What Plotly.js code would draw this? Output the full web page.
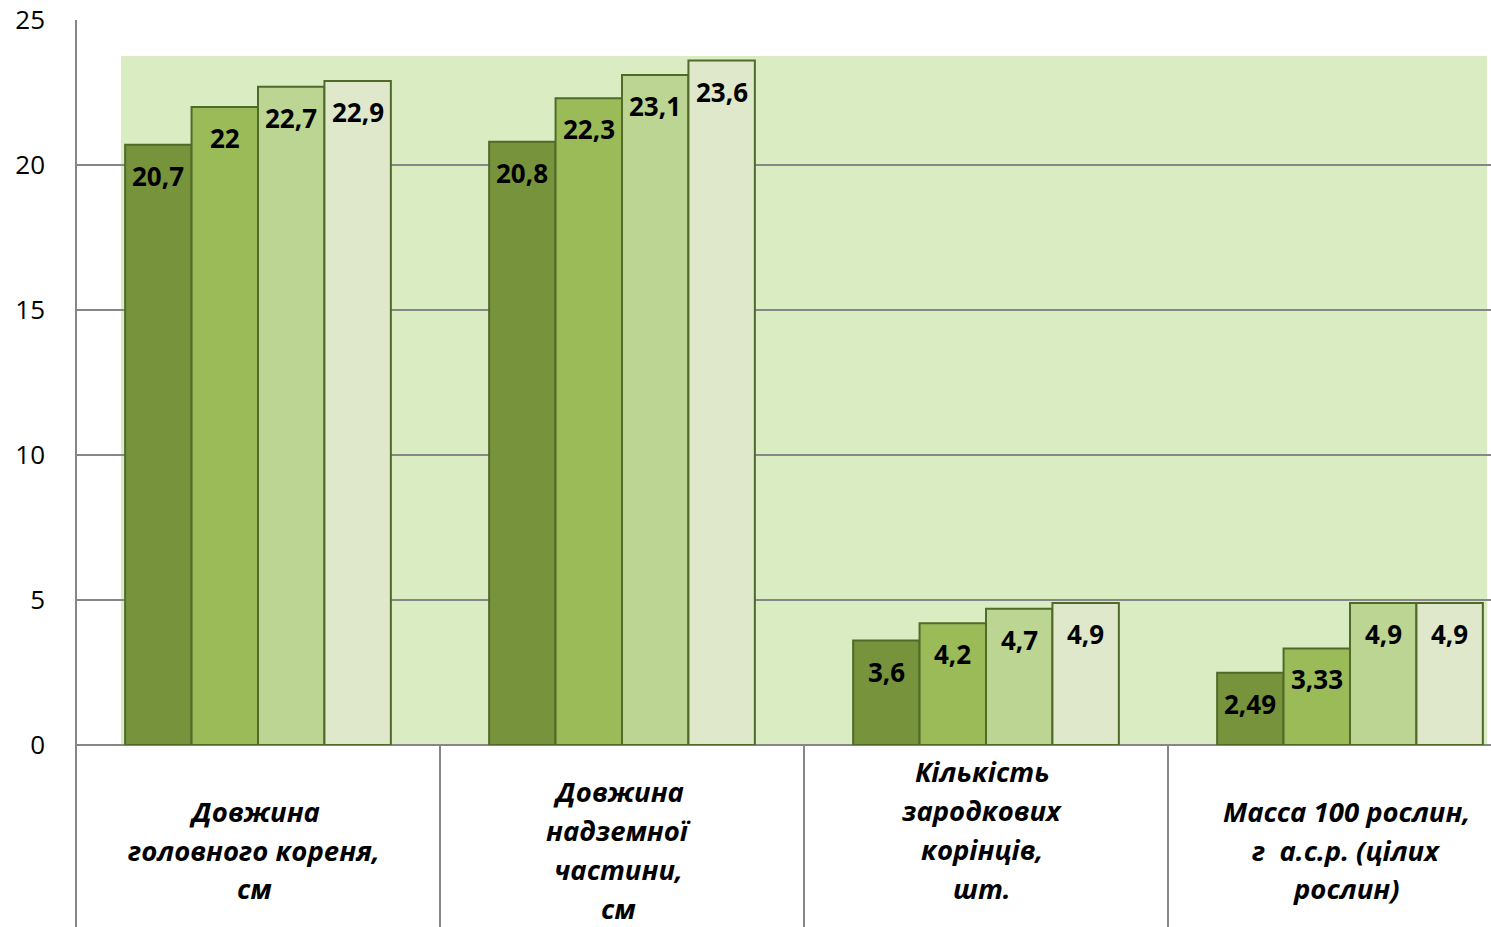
<!DOCTYPE html>
<html>
<head>
<meta charset="utf-8">
<script src="https://cdn.plot.ly/plotly-3.0.1.min.js"></script>
<style>html,body{margin:0;padding:0;background:#fff;}#chart{width:1491px;height:927px;}</style>
</head>
<body>
<div id="chart"></div>
<script>
const categories = [
  "Довжина<br>головного кореня,<br>см",
  "Довжина<br>надземної<br>частини,<br>см",
  "Кількість<br>зародкових<br>корінців,<br>шт.",
  "Масса 100 рослин,<br>г  а.с.р. (цілих<br>рослин)"
];
const series1 = [20.7, 20.8, 3.6, 2.49];
const series2 = [22, 22.3, 4.2, 3.33];
const series3 = [22.7, 23.1, 4.7, 4.9];
const series4 = [22.9, 23.6, 4.9, 4.9];
const yTicks = [0, 5, 10, 15, 20, 25];

const allSeries = [series1, series2, series3, series4];
const colors = ['#77933c', '#9bbb59', '#bcd592', '#dfe8cb'];
const xIdx = categories.map((c, i) => i);
const fmt = v => String(v).replace('.', ',');

const traces = allSeries.map((s, k) => ({
  type: 'bar',
  x: xIdx,
  y: s,
  marker: {color: colors[k], line: {color: '#506a29', width: 2}},
  hoverinfo: 'none',
  showlegend: false
}));

const plotL = 76, plotT = 20, plotB = 745, W = 1491, H = 927;
const catW = 364, bargap = 0.27;
const ph = plotB - plotT;
const belowBottom = -(H - plotB) / ph;
const barW = catW * (1 - bargap) / allSeries.length;

const shapes = [
  {type: 'rect', xref: 'paper', yref: 'paper', x0: (121 - plotL) / (W - plotL), x1: (1487 - plotL) / (W - plotL),
   y0: 0, y1: (plotB - 56) / ph, fillcolor: '#d9ecc2', line: {width: 0}, layer: 'below'},
  {type: 'line', xref: 'paper', yref: 'paper', x0: 0, x1: 0, y0: belowBottom, y1: 1,
   line: {color: '#868686', width: 2}, layer: 'above'}
];
[0.5, 1.5, 2.5].forEach(xv => shapes.push({
  type: 'line', xref: 'x', yref: 'paper', x0: xv, x1: xv, y0: belowBottom, y1: 0,
  line: {color: '#868686', width: 2}
}));

const annotations = [];
allSeries.forEach((s, k) => {
  s.forEach((v, i) => {
    annotations.push({
      x: xIdx[i], y: v, xref: 'x', yref: 'y', xshift: (k - (allSeries.length - 1) / 2) * barW,
      yshift: -31, yanchor: 'middle', xanchor: 'center', showarrow: false,
      text: '<b>' + fmt(v) + '</b>',
      font: {family: '"Open Sans", sans-serif', size: 26, color: '#000'}
    });
  });
});
const labelCenters = [850, 850, 830, 850];
const lineH = 39;
categories.forEach((c, i) => {
  const lines = c.split('<br>');
  lines.forEach((ln, j) => {
    const yc = labelCenters[i] + (j - (lines.length - 1) / 2) * lineH;
    annotations.push({
      x: xIdx[i], xref: 'x', yref: 'paper', y: -(yc - plotB) / ph, yanchor: 'middle', xanchor: 'center',
      xshift: -4,
      text: '<b><i>' + ln + '</i></b>', showarrow: false,
      font: {family: '"Open Sans", sans-serif', size: 27.5, color: '#000'}
    });
  });
});

const layout = {
  width: W, height: H,
  margin: {l: plotL, r: 0, t: plotT, b: H - plotB, pad: 0},
  paper_bgcolor: '#fff', plot_bgcolor: 'rgba(0,0,0,0)',
  barmode: 'group', bargap: bargap, bargroupgap: 0,
  xaxis: {type: 'linear', range: [-0.5, -0.5 + (W - plotL) / catW], showticklabels: false,
          showgrid: false, zeroline: false, showline: false, ticks: '', fixedrange: true},
  yaxis: {range: [0, 25], tickvals: yTicks, ticktext: yTicks.map(String),
          showgrid: true, gridcolor: '#868686', gridwidth: 1.5, zeroline: true, zerolinecolor: '#868686', zerolinewidth: 2,
          showline: false, ticks: '', ticklabelstandoff: 30,
          tickfont: {family: '"Open Sans", sans-serif', size: 26, color: '#000'}},
  shapes: shapes,
  annotations: annotations
};

Plotly.newPlot('chart', traces, layout, {displayModeBar: false, staticPlot: true});
</script>
</body>
</html>
